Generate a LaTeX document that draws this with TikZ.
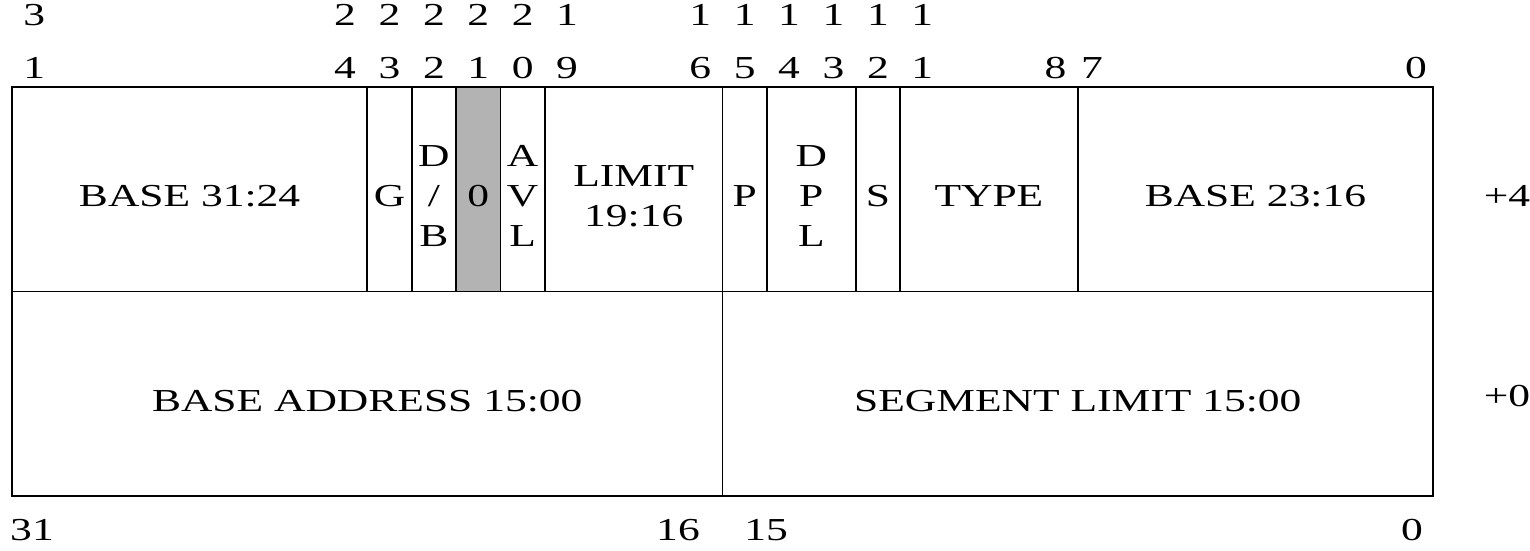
\documentclass[tikz,border=0pt]{standalone}
\usepackage{fontspec}
\setmainfont[FakeStretch=1.36]{Liberation Serif}
\usetikzlibrary{positioning}
\definecolor{grisbit}{HTML}{B3B3B3}
\tikzset{
  campo/.style={rectangle, draw=black, line width=0.9pt, minimum height=102.25pt, inner sep=0pt},
  campog/.style={campo, fill=grisbit},
  txt/.style={inner sep=0pt, align=center, yshift=-3.5pt, font=\fontsize{16}{20}\selectfont},
  bitnum/.style={inner sep=0pt, font=\fontsize{16}{18}\selectfont},
  desp/.style={inner sep=0pt, font=\fontsize{16}{18}\selectfont}
}

\begin{document}
\begin{tikzpicture}[x=0.5pt, y=-0.5pt]
  \useasboundingbox (0,0) rectangle (1530,551);
  % palabra alta (+4)
  \node (base3124) [campo, minimum width=177.62pt, label={[txt]center:BASE 31:24}] at (189.6,189.25) {};
  \node (g) [campo, minimum width=22.2pt, label={[txt]center:G}] at (389.5,189.25) {};
  \node (db) [campo, minimum width=22.2pt, label={[txt]center:{D\\/\\B}}] at (433.9,189.25) {};
  \node (cero) [campog, minimum width=22.2pt, label={[txt]center:0}] at (478.3,189.25) {};
  \node (avl) [campo, minimum width=22.2pt, label={[txt]center:{A\\V\\L}}] at (522.7,189.25) {};
  \node (limite) [campo, minimum width=88.81pt, label={[txt]center:{LIMIT\\19:16}}] at (633.7,189.25) {};
  \node (p) [campo, minimum width=22.2pt, label={[txt]center:P}] at (744.7,189.25) {};
  \node (dpl) [campo, minimum width=44.4pt, label={[txt]center:{D\\P\\L}}] at (811.3,189.25) {};
  \node (s) [campo, minimum width=22.2pt, label={[txt]center:S}] at (877.9,189.25) {};
  \node (tipo) [campo, minimum width=88.81pt, label={[txt]center:TYPE}] at (988.9,189.25) {};
  \node (base2316) [campo, minimum width=177.62pt, label={[txt]center:BASE 23:16}] at (1255.4,189.25) {};
  % palabra baja (+0)
  \node (baseaddr) [campo, minimum width=355.25pt, label={[txt]center:BASE ADDRESS 15:00}] at (367.25,393.75) {};
  \node (seglim) [campo, minimum width=355.25pt, label={[txt]center:SEGMENT LIMIT 15:00}] at (1077.75,393.75) {};
  % desplazamientos
  \node (off4) [desp] at (1507,196) {+4};
  \node (off0) [desp] at (1507,396) {+0};
  % numeros de bit, fila de arriba
  \node (a31) [bitnum] at (34.2,15) {3};
  \node (a24) [bitnum] at (345.0,15) {2};
  \node (a23) [bitnum] at (389.5,15) {2};
  \node (a22) [bitnum] at (433.9,15) {2};
  \node (a21) [bitnum] at (478.3,15) {2};
  \node (a20) [bitnum] at (522.7,15) {2};
  \node (a19) [bitnum] at (567.1,15) {1};
  \node (a16) [bitnum] at (700.3,15) {1};
  \node (a15) [bitnum] at (744.7,15) {1};
  \node (a14) [bitnum] at (789.1,15) {1};
  \node (a13) [bitnum] at (833.5,15) {1};
  \node (a12) [bitnum] at (877.9,15) {1};
  \node (a11) [bitnum] at (922.3,15) {1};
  % numeros de bit, segunda fila
  \node (b31) [bitnum] at (34.2,68) {1};
  \node (b24) [bitnum] at (345.0,68) {4};
  \node (b23) [bitnum] at (389.5,68) {3};
  \node (b22) [bitnum] at (433.9,68) {2};
  \node (b21) [bitnum] at (478.3,68) {1};
  \node (b20) [bitnum] at (522.7,68) {0};
  \node (b19) [bitnum] at (567.1,68) {9};
  \node (b16) [bitnum] at (700.3,68) {6};
  \node (b15) [bitnum] at (744.7,68) {5};
  \node (b14) [bitnum] at (789.1,68) {4};
  \node (b13) [bitnum] at (833.5,68) {3};
  \node (b12) [bitnum] at (877.9,68) {2};
  \node (b11) [bitnum] at (922.3,68) {1};
  \node (b8) [bitnum] at (1055.5,68) {8};
  \node (b7) [bitnum] at (1092,68) {7};
  \node (b0) [bitnum] at (1416,68) {0};
  % numeros de bit, abajo
  \node (c31) [bitnum] at (32,530) {31};
  \node (c16) [bitnum] at (678,530) {16};
  \node (c15) [bitnum] at (766,530) {15};
  \node (c0) [bitnum] at (1412,530) {0};
\end{tikzpicture}
\end{document}
